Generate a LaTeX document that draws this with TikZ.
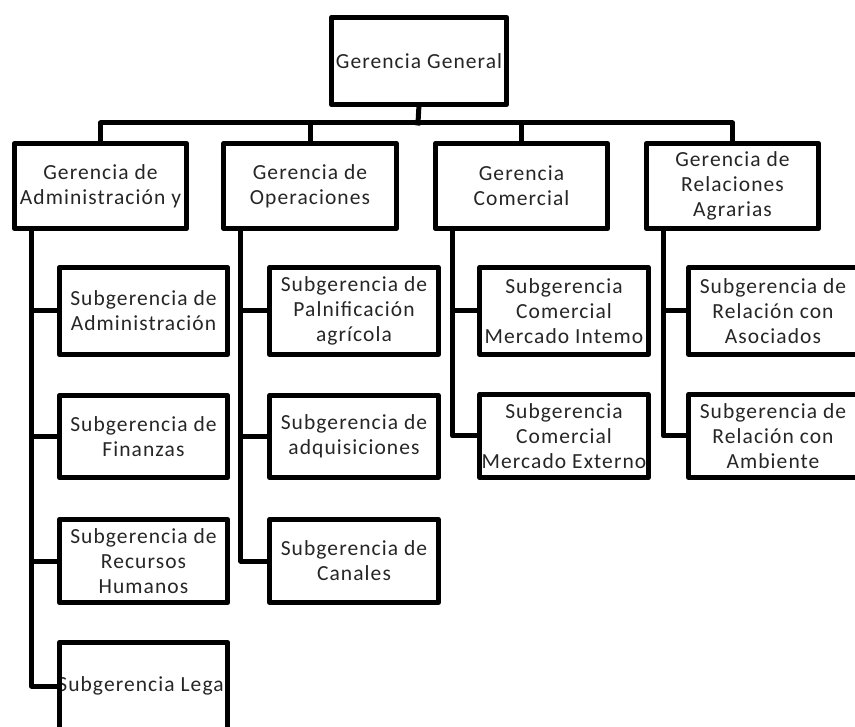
\documentclass[tikz,border=0pt]{standalone}
\usepackage{fontspec}
\setmainfont[LetterSpace=5]{Carlito}
\begin{document}
\begin{tikzpicture}[x=1pt,y=-1pt,
  box/.style={rectangle, fill=white, inner sep=0pt, align=center, text=black!85,
    font=\fontsize{21.5}{25}\selectfont},
  l1/.style={box, minimum width=172pt, minimum height=85pt},
  sub/.style={box, minimum width=168pt},
  border/.style={line width=5pt, line join=round, draw=black},
  link/.style={line width=5pt, line join=round, line cap=rect, draw=black}]
\useasboundingbox (0,0) rectangle (855,727);
\clip (0,0) rectangle (855,727);
\fill[white] (0,0) rectangle (855,727);

% level 0
\node[box, minimum width=175pt, minimum height=87pt] (gg) at (419,61) {Gerencia General};
% level 1
\node[l1] (adm) at (100.5,186) {Gerencia de\\Administración y};
\node[l1] (ope) at (310,186) {Gerencia de\\Operaciones};
\node[l1] (com) at (521.5,186) {Gerencia\\Comercial};
\node[l1] (rel) at (732.5,186) {Gerencia de\\Relaciones\\Agrarias};
% admin column
\node[sub, minimum height=87pt] (sa1) at (143.5,311) {Subgerencia de\\Administración};
\node[sub, minimum height=82pt] (sa2) at (143.5,436.5) {Subgerencia de\\Finanzas};
\node[sub, minimum height=83pt] (sa3) at (143.5,561) {Subgerencia de\\Recursos\\Humanos};
\node[sub, minimum height=87pt, minimum width=168pt] (sa4) at (143.5,686) {};
\node[box] at (sa4.center) {Subgerencia Legal};
% operations column
\node[sub, minimum height=87pt] (so1) at (354,311) {Subgerencia de\\Palnificación\\agrícola};
\node[sub, minimum height=82pt] (so2) at (354,436.5) {Subgerencia de\\adquisiciones};
\node[sub, minimum height=83pt] (so3) at (354,561) {Subgerencia de\\Canales};
% commercial column
\node[sub, minimum height=87pt] (sc1) at (564,311) {Subgerencia\\Comercial\\Mercado Intemo};
\node[sub, minimum height=83pt] (sc2) at (564,436) {Subgerencia\\Comercial\\Mercado Externo};
% relations column
\node[sub, minimum height=87pt] (sr1) at (773,311) {Subgerencia de\\Relación con\\Asociados};
\node[sub, minimum height=83pt] (sr2) at (773,436) {Subgerencia de\\Relación con\\Ambiente};

% borders on top of text
\foreach \n in {gg,adm,ope,com,rel,sa1,sa2,sa3,sa4,so1,so2,so3,sc1,sc2,sr1,sr2}
  \draw[border] (\n.south west) rectangle (\n.north east);

% bus
\coordinate (bus) at (418,123);
\draw[link] (gg.south) -- (bus);
\draw[link] (bus) -| (adm.north);
\draw[link] (bus) -| (ope.north);
\draw[link] (bus) -| (com.north);
\draw[link] (bus) -| (rel.north);

% branches
\foreach \p/\s in {adm/sa1,adm/sa2,adm/sa3,adm/sa4,ope/so1,ope/so2,ope/so3,com/sc1,com/sc2,rel/sr1,rel/sr2}
  \draw[link] ([xshift=17pt]\p.south west) |- (\s.west);
\end{tikzpicture}
\end{document}
